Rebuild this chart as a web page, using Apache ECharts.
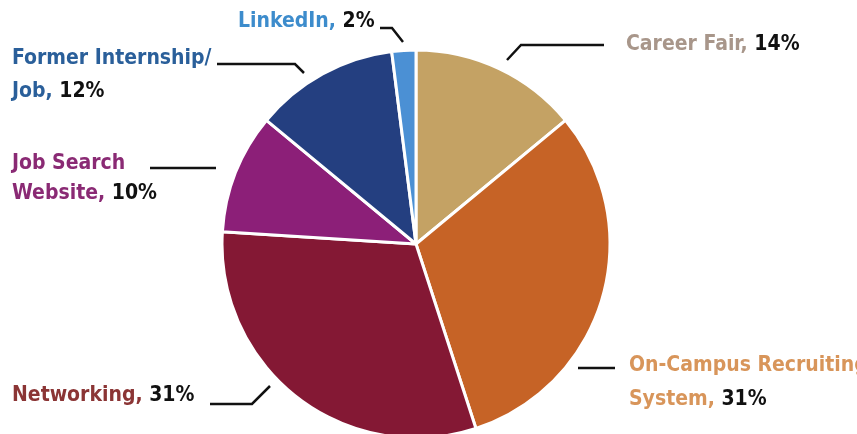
<!DOCTYPE html>
<html>
<head>
<meta charset="utf-8">
<style>
html,body{margin:0;padding:0;background:#fff;}
#chart{width:857px;height:434px;}
</style>
<script src="https://cdn.jsdelivr.net/npm/echarts@6/dist/echarts.min.js"></script>
</head>
<body>
<div id="chart"></div>
<script>
// Data (clockwise from top)
const categories = ['Career Fair', 'On-Campus Recruiting\nSystem', 'Networking', 'Job Search\nWebsite', 'Former Internship/\nJob', 'LinkedIn'];
const values = [14, 31, 31, 10, 12, 2];
const sliceColors = ['#c4a264', '#c66326', '#841834', '#8c1f78', '#243f80', '#4b90d4'];
const nameColors = ['#a8968a', '#d8955a', '#8b3535', '#8a2a74', '#2a5f9a', '#3d8ccc'];

// Label placement (pixels)
const labelPlaces = [
  {x: 626, y: 45, lh: 30, pts: [[507, 60], [521, 45], [604, 45]]},
  {x: 629, y: 383, lh: 34, pts: [[578, 368], [596, 368], [615, 368]]},
  {x: 12, y: 396, lh: 30, pts: [[270, 386], [252, 404], [210, 404]]},
  {x: 12, y: 178.5, lh: 30, pts: [[216, 168], [190, 168], [150, 168]]},
  {x: 12, y: 75, lh: 33, pts: [[304, 73], [295, 64], [217, 64]]},
  {x: 238, y: 22, lh: 30, pts: [[403, 42], [392, 28], [380, 28]]}
];

const FONT = '"Liberation Sans Narrow", "DejaVu Sans Condensed", "Roboto Condensed", sans-serif';
const FS = 21;

const rich = {};
nameColors.forEach((c, i) => {
  rich['n' + i] = {color: c, fontWeight: 'bold', fontSize: FS, fontFamily: FONT, lineHeight: labelPlaces[i].lh};
  rich['v' + i] = {color: '#111', fontWeight: 'bold', fontSize: FS, fontFamily: FONT, lineHeight: labelPlaces[i].lh};
});

const chart = echarts.init(document.getElementById('chart'), null, {renderer: 'canvas'});
chart.setOption({
  animation: false,
  series: [{
    type: 'pie',
    center: [416, 244],
    radius: [0, 194],
    startAngle: 90,
    clockwise: true,
    avoidLabelOverlap: false,
    data: categories.map((n, i) => ({name: n, value: values[i], itemStyle: {color: sliceColors[i]}})),
    itemStyle: {borderColor: '#fff', borderWidth: 3},
    label: {
      show: true,
      position: 'outside',
      rich: rich,
      formatter: function (p) {
        const i = p.dataIndex;
        const parts = p.name.split('\n');
        return parts.map((s, k) => k < parts.length - 1 ? '{n' + i + '|' + s + '}' : '{n' + i + '|' + s + ', }{v' + i + '|' + p.value + '%}').join('\n');
      }
    },
    labelLine: {show: true, smooth: false, lineStyle: {color: '#111', width: 2.5}},
    labelLayout: function (params) {
      const lp = labelPlaces[params.dataIndex];
      return {x: lp.x, y: lp.y, align: 'left', verticalAlign: 'middle', labelLinePoints: lp.pts};
    },
    emphasis: {disabled: true}
  }]
});
</script>
</body>
</html>
